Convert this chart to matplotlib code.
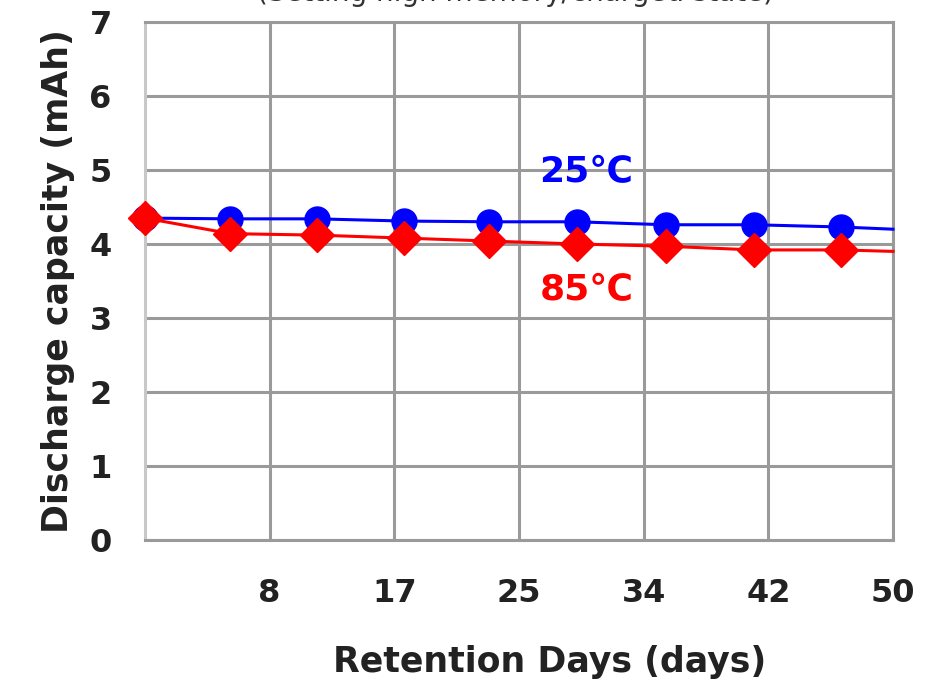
import matplotlib
matplotlib.use('Agg')
import matplotlib.pyplot as plt

plt.rcParams['font.family'] = ['DejaVu Sans', 'Noto Sans CJK JP']

# Data
days      = [0, 5.7, 11.5, 17.3, 23.0, 28.9, 34.8, 40.7, 46.5, 50]
cap_25c   = [4.35, 4.34, 4.34, 4.31, 4.30, 4.30, 4.26, 4.26, 4.23, 4.20]
cap_85c   = [4.35, 4.14, 4.12, 4.08, 4.04, 4.00, 3.97, 3.92, 3.92, 3.90]
x_ticks   = [50 / 6 * k for k in range(1, 7)]
x_labels  = ['8', '17', '25', '34', '42', '50']
y_ticks   = [0, 1, 2, 3, 4, 5, 6, 7]

C_GRID = '#9A9A9A'
C_TEXT = '#222222'
C_BLUE = '#0000FF'
C_RED  = '#FF0000'

fig = plt.figure(figsize=(9.33, 6.85), dpi=100)
ax = fig.add_axes([145 / 933, 1 - 540 / 685, 748 / 933, 518 / 685])

ax.plot(days, cap_25c, color=C_BLUE, lw=2.2, marker='o', markersize=18,
        markevery=slice(0, 9), zorder=3, clip_on=False)
ax.plot(days, cap_85c, color=C_RED, lw=2.2, marker='D', markersize=17,
        markevery=slice(0, 9), zorder=4, clip_on=False)

ax.set_xlim(0, 50)
ax.set_ylim(0, 7)
ax.set_xticks(x_ticks)
ax.set_xticklabels(x_labels)
ax.set_yticks(y_ticks)
ax.grid(True, color=C_GRID, lw=2.2)
ax.set_axisbelow(True)
for s in ax.spines.values():
    s.set_color(C_GRID)
    s.set_linewidth(2.2)
ax.spines['left'].set_color('#C8C8C8')
ax.tick_params(length=0, labelsize=23, colors=C_TEXT)
ax.tick_params(axis='y', pad=24)
ax.tick_params(axis='x', pad=27)
for lbl in ax.get_xticklabels() + ax.get_yticklabels():
    lbl.set_fontweight('bold')

ax.set_ylabel('Discharge capacity (mAh)', fontsize=25, fontweight='bold',
              color='#222222', labelpad=10)
fig.text(550 / 933, 1 - 662 / 685, 'Retention Days (days)', fontsize=25,
         fontweight='bold', color='#222222', ha='center', va='center')

ax.text(29.5, 4.97, '25℃', color=C_BLUE, fontsize=26, fontweight='bold',
        ha='center', va='center')
ax.text(29.5, 3.38, '85℃', color=C_RED, fontsize=26, fontweight='bold',
        ha='center', va='center')

# title partially cut off at the top edge, as in the reference
fig.text(515 / 933, 1 - 1 / 685, '(Setting high memory/charged state)',
         fontsize=20, color='#333333', ha='center', va='baseline')

fig.savefig('out.png', dpi=100, facecolor='white')
